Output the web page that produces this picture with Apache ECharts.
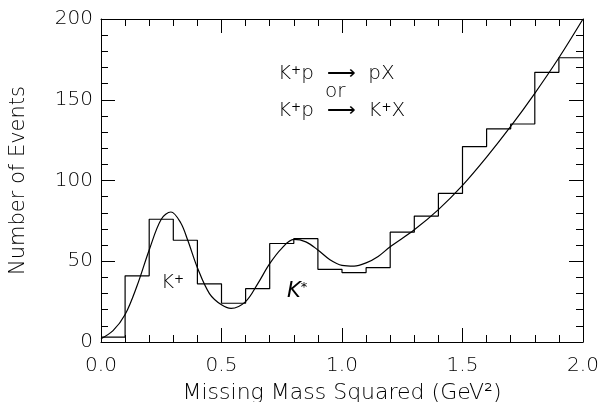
<!DOCTYPE html>
<html>
<head>
<meta charset="utf-8">
<script src="https://cdn.jsdelivr.net/npm/echarts@6/dist/echarts.min.js"></script>
<style>html,body{margin:0;padding:0;background:#fff}#c{width:611px;height:402px}</style>
</head>
<body>
<div id="c"></div>
<script>
// Histogram: bin left edges (width 0.1) and counts
const binEdges = [0.0,0.1,0.2,0.3,0.4,0.5,0.6,0.7,0.8,0.9,1.0,1.1,1.2,1.3,1.4,1.5,1.6,1.7,1.8,1.9,2.0];
const binCounts = [3,41,76,63,36,24,33,61,64,45,43,46,68,78,92,121,132,135,167,176];
// Fitted curve
const fitX = [0.0,0.05,0.1,0.15,0.2,0.25,0.29,0.33,0.36,0.4,0.45,0.5,0.54,0.6,0.65,0.7,0.75,0.8,0.85,0.9,0.95,1.0,1.05,1.1,1.15,1.2,1.3,1.4,1.5,1.6,1.7,1.8,1.9,2.0];
const fitY = [2,7,17,35,57,76,80.5,74,63,46,30,23,20.8,25,36,48.5,58,63.5,62,57,51,47.5,47,49,53,59,69.5,82,97,114.5,133.5,154,176,200];
const xTicks = [0.0,0.5,1.0,1.5,2.0];
const yTicks = [0,50,100,150,200];

const FONT = 'DejaVu Sans';
const histData = binEdges.map((x,i)=>[x, i < binCounts.length ? binCounts[i] : binCounts[binCounts.length-1]]);
const fitData = fitX.map((x,i)=>[x, fitY[i]]);

const chart = echarts.init(document.getElementById('c'), null, {renderer:'canvas'});
const axisBase = {
  axisLine:{show:true,onZero:false,lineStyle:{color:'#000',width:1}},
  axisTick:{show:true,inside:true,length:14,lineStyle:{color:'#000',width:1}},
  minorTick:{show:true,splitNumber:5,length:7,lineStyle:{color:'#000',width:1}},
  splitLine:{show:false}, minorSplitLine:{show:false}
};
const txt = {color:'#000',fontFamily:FONT,fontWeight:200};
chart.setOption({
  animation:false,
  backgroundColor:'#fff',
  grid:{left:101,right:28,top:19,bottom:60,containLabel:false,outerBoundsMode:'none'},
  textStyle:{fontFamily:FONT},
  xAxis:[
    Object.assign({type:'value',min:0,max:2,interval:0.5,position:'bottom',
      axisLabel:Object.assign({formatter:v=>v.toFixed(1),margin:14,fontSize:20,customValues:xTicks},txt),
      name:'Missing Mass Squared (GeV²)',nameLocation:'middle',nameGap:40,
      nameTextStyle:Object.assign({fontSize:22},txt)},axisBase),
    Object.assign({type:'value',min:0,max:2,interval:0.5,position:'top',axisLabel:{show:false}},axisBase)
  ],
  yAxis:[
    Object.assign({type:'value',min:0,max:200,interval:50,position:'left',
      axisLabel:Object.assign({margin:8,fontSize:20,customValues:yTicks},txt),
      name:'Number of Events',nameLocation:'middle',nameGap:72,
      nameTextStyle:Object.assign({fontSize:21},txt)},axisBase),
    Object.assign({type:'value',min:0,max:200,interval:50,position:'right',axisLabel:{show:false}},axisBase)
  ],
  series:[
    {type:'line',data:histData,step:'end',showSymbol:false,lineStyle:{color:'#000',width:1.2},silent:true},
    {type:'line',data:fitData,smooth:0.35,showSymbol:false,lineStyle:{color:'#000',width:1.2},silent:true}
  ],
  graphic:[
    {type:'text',left:278,top:64,style:{text:'K{s|+}p  ⟶  pX',rich:{s:{fontSize:12,padding:[0,0,7,0],fontFamily:FONT}},fontSize:20,fontFamily:FONT,fontWeight:200,fill:'#000'}},
    {type:'text',left:325,top:82,style:{text:'or',fontSize:20,fontFamily:FONT,fontWeight:200,fill:'#000'}},
    {type:'text',left:278,top:101,style:{text:'K{s|+}p  ⟶  K{s|+}X',rich:{s:{fontSize:12,padding:[0,0,7,0],fontFamily:FONT}},fontSize:20,fontFamily:FONT,fontWeight:200,fill:'#000'}},
    {type:'text',left:161,top:273,style:{text:'K{s|+}',rich:{s:{fontSize:12,padding:[0,0,7,0],fontFamily:FONT}},fontSize:20,fontFamily:FONT,fontWeight:200,fill:'#000'}},
    {type:'text',left:287,top:281,style:{text:'K{s|*}',rich:{s:{fontSize:13,padding:[0,0,7,0],fontFamily:FONT,fontStyle:'italic'}},fontSize:21,fontFamily:FONT,fontStyle:'italic',fontWeight:200,fill:'#000'}}
  ]
});
</script>
</body>
</html>
